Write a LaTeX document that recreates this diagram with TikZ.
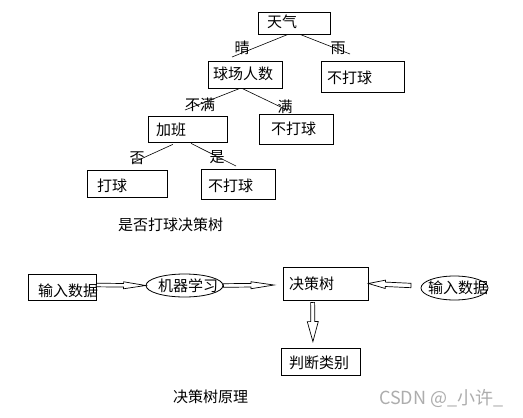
\documentclass[tikz,border=0pt]{standalone}
\usepackage{fontspec}
\setmainfont{Noto Sans CJK SC}
\usetikzlibrary{calc,shapes.geometric}
\tikzset{
  box/.style={draw, line width=0.8pt, inner sep=0pt},
  oval/.style={draw, ellipse, line width=0.8pt, inner sep=0pt},
  txt/.style={inner sep=0pt, anchor=west, font=\fontsize{15}{18}\selectfont},
  edge/.style={line width=0.6pt},
  blockarr/.style={draw, fill=white, line width=0.7pt, line join=miter},
  wm/.style={inner sep=0pt, anchor=west, text=black!32, font=\fontsize{18}{21}\selectfont}
}
\newcommand\blockarrow[6]{%
  \coordinate (#3) at ($(#2)!#6!(#1)$);
  \draw[blockarr] ($(#1)!#4!90:(#2)$) -- ($(#3)!#4!90:(#2)$) -- ($(#3)!#5!90:(#2)$) -- (#2)
    -- ($(#3)!#5!-90:(#2)$) -- ($(#3)!#4!-90:(#2)$) -- ($(#1)!#4!-90:(#2)$) -- cycle;
}
\begin{document}
\begin{tikzpicture}[x=1pt,y=-1pt]
\fill[white] (0,0) rectangle (523,418);
\useasboundingbox (0,0) rectangle (523,418);

% ---------- decision tree ----------
\node[box, minimum width=72pt, minimum height=22pt] (tq) at (294,23) {};
\node[txt] (ttq) at (267,22) {天气};
\node[box, minimum width=74pt, minimum height=27pt] (qc) at (245,74.5) {};
\node[txt] (tqc) at (213,74) {球场人数};
\node[box, minimum width=83pt, minimum height=31pt] (n1) at (362.5,76.5) {};
\node[txt] (tn1) at (327,78) {不打球};
\node[box, minimum width=79pt, minimum height=26pt] (jb) at (187.5,129) {};
\node[txt] (tjb) at (156,130) {加班};
\node[box, minimum width=74pt, minimum height=30pt] (n2) at (296,129) {};
\node[txt] (tn2) at (271,129) {不打球};
\node[box, minimum width=80pt, minimum height=27pt] (dq) at (127,183.5) {};
\node[txt] (tdq) at (97,186) {打球};
\node[box, minimum width=74pt, minimum height=30pt] (n3) at (238,184) {};
\node[txt] (tn3) at (208,186) {不打球};

% edges with free ends
\coordinate (e1) at (232,57);
\coordinate (e2) at (350,54);
\coordinate (e3) at (185,110);
\coordinate (e4) at (287,110);
\coordinate (e5) at (132,163);
\coordinate (e6) at (236,166);
\draw[edge] ($(tq.south west)!0.417!(tq.south east)$) -- (e1);
\draw[edge] ($(tq.south west)!0.583!(tq.south east)$) -- (e2);
\draw[edge] ($(qc.south west)!0.432!(qc.south east)$) -- (e3);
\draw[edge] ($(qc.south west)!0.46!(qc.south east)$) -- (e4);
\draw[edge] ($(jb.south west)!0.316!(jb.south east)+(0,2)$) -- (e5);
\draw[edge] ($(jb.south west)!0.544!(jb.south east)+(0,1)$) -- (e6);

\node[txt, anchor=center] (l1) at (242,48) {晴};
\node[txt, anchor=center] (l2) at (338,48) {雨};
\node[txt, anchor=center] (l3) at (200,105) {不满};
\node[txt, anchor=center] (l4) at (285,107) {满};
\node[txt, anchor=center] (l5) at (137,158) {否};
\node[txt, anchor=center] (l6) at (217,157) {是};

\node[txt] (cap1) at (118,225) {是否打球决策树};

% ---------- principle ----------
\node[box, minimum width=68pt, minimum height=26pt] (inL) at (62,287) {};
\node[txt] (tinL) at (38,291) {输入数据};
\node[oval, minimum width=77pt, minimum height=23pt] (ml) at (184.5,285.5) {};
\node[txt] (tml) at (158,286) {机器学习};
\node[box, minimum width=85pt, minimum height=33pt] (dt) at (325.5,283.5) {};
\node[txt] (tdt) at (289,284) {决策树};
\node[oval, minimum width=67pt, minimum height=24pt] (inR) at (454.5,288) {};
\node[txt] (tinR) at (428,288) {输入数据};
\node[box, minimum width=79pt, minimum height=27pt] (pd) at (320.5,361.5) {};
\node[txt] (tpd) at (289,363) {判断类别};

\coordinate (a1s) at ($(inL.east)+(0,-2)$);
\coordinate (a2e) at (274,285);
\coordinate (a3s) at (411,285.5);
\coordinate (a4s) at ($(dt.south west)!0.35!(dt.south east)+(0,2)$);
\coordinate (a4e) at ($(pd.north west)!0.405!(pd.north east)+(0,-6)$);
\blockarrow{a1s}{ml.west}{h1}{1.8pt}{3.5pt}{22pt}
\blockarrow{ml.east}{a2e}{h2}{1.8pt}{3.5pt}{23pt}
\blockarrow{a3s}{dt.east}{h3}{2.2pt}{4.2pt}{17pt}
\blockarrow{a4s}{a4e}{h4}{2pt}{5.5pt}{20pt}

\node[txt] (cap2) at (173,397) {决策树原理};
\node[wm] (wmk) at (379,398) {CSDN @\_小许\_};
\end{tikzpicture}
\end{document}
